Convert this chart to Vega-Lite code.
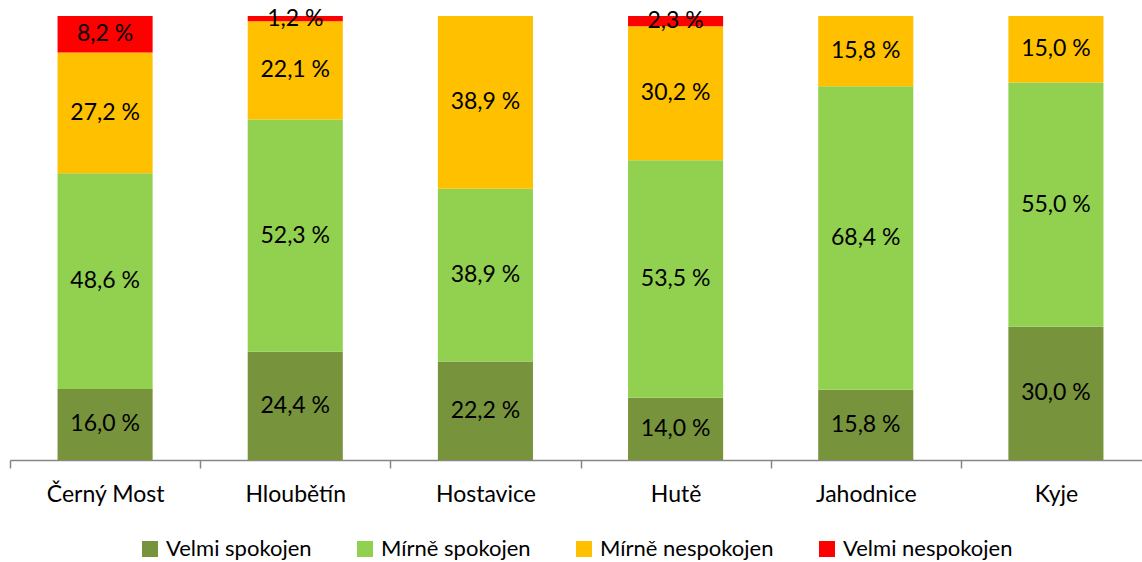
{
  "$schema": "https://vega.github.io/schema/vega-lite/v6.json",
  "width": 1132,
  "height": 444,
  "autosize": {"type": "none"},
  "padding": {"left": 10, "top": 16, "right": 0, "bottom": 102},
  "background": "white",
  "data": {"values": [
    {"area": "Černý Most", "series": "Velmi spokojen", "o": 1, "value": 16.0},
    {"area": "Černý Most", "series": "Mírně spokojen", "o": 2, "value": 48.6},
    {"area": "Černý Most", "series": "Mírně nespokojen", "o": 3, "value": 27.2},
    {"area": "Černý Most", "series": "Velmi nespokojen", "o": 4, "value": 8.2},
    {"area": "Hloubětín", "series": "Velmi spokojen", "o": 1, "value": 24.4},
    {"area": "Hloubětín", "series": "Mírně spokojen", "o": 2, "value": 52.3},
    {"area": "Hloubětín", "series": "Mírně nespokojen", "o": 3, "value": 22.1},
    {"area": "Hloubětín", "series": "Velmi nespokojen", "o": 4, "value": 1.2},
    {"area": "Hostavice", "series": "Velmi spokojen", "o": 1, "value": 22.2},
    {"area": "Hostavice", "series": "Mírně spokojen", "o": 2, "value": 38.9},
    {"area": "Hostavice", "series": "Mírně nespokojen", "o": 3, "value": 38.9},
    {"area": "Hutě", "series": "Velmi spokojen", "o": 1, "value": 14.0},
    {"area": "Hutě", "series": "Mírně spokojen", "o": 2, "value": 53.5},
    {"area": "Hutě", "series": "Mírně nespokojen", "o": 3, "value": 30.2},
    {"area": "Hutě", "series": "Velmi nespokojen", "o": 4, "value": 2.3},
    {"area": "Jahodnice", "series": "Velmi spokojen", "o": 1, "value": 15.8},
    {"area": "Jahodnice", "series": "Mírně spokojen", "o": 2, "value": 68.4},
    {"area": "Jahodnice", "series": "Mírně nespokojen", "o": 3, "value": 15.8},
    {"area": "Kyje", "series": "Velmi spokojen", "o": 1, "value": 30.0},
    {"area": "Kyje", "series": "Mírně spokojen", "o": 2, "value": 55.0},
    {"area": "Kyje", "series": "Mírně nespokojen", "o": 3, "value": 15.0}
  ]},
  "transform": [
    {"stack": "value", "groupby": ["area"], "sort": [{"field": "o", "order": "ascending"}], "offset": "normalize", "as": ["v0", "v1"]},
    {"calculate": "(datum.v0 + datum.v1) / 2", "as": "mid"},
    {"calculate": "replace(format(datum.value, '.1f'), '.', ',') + ' %'", "as": "label"}
  ],
  "encoding": {
    "x": {
      "field": "area", "type": "nominal", "sort": null,
      "scale": {"range": [0, 1141], "paddingInner": 0, "paddingOuter": 0},
      "axis": {
        "title": null, "labelAngle": 0, "labelFontSize": 23, "labelColor": "#000000",
        "labelFont": "Lato", "labelPadding": 15, "tickBand": "extent", "tickSize": 8,
        "tickColor": "#868686", "domainColor": "#868686", "domainWidth": 1.5, "tickWidth": 1.5
      }
    }
  },
  "layer": [
    {
      "mark": {"type": "bar", "width": {"band": 0.5}},
      "encoding": {
        "y": {"field": "v0", "type": "quantitative", "scale": {"domain": [0, 1]}, "axis": null},
        "y2": {"field": "v1"},
        "color": {
          "field": "series", "type": "nominal",
          "scale": {
            "domain": ["Velmi spokojen", "Mírně spokojen", "Mírně nespokojen", "Velmi nespokojen"],
            "range": ["#77933C", "#92D050", "#FFC000", "#FF0000"]
          },
          "legend": {
            "title": null, "orient": "bottom", "direction": "horizontal", "symbolType": "square",
            "symbolSize": 256, "symbolStrokeWidth": 0, "labelFontSize": 22, "labelFont": "Lato",
            "labelColor": "#000000", "columnPadding": 42, "offset": 32, "labelOffset": 5, "labelLimit": 400
          }
        }
      }
    },
    {
      "mark": {"type": "text", "fontSize": 23, "font": "Lato", "color": "#000000", "baseline": "middle"},
      "encoding": {
        "y": {"field": "mid", "type": "quantitative"},
        "text": {"field": "label", "type": "nominal"}
      }
    }
  ],
  "config": {
    "view": {"stroke": null},
    "legend": {"layout": {"bottom": {"anchor": "middle"}}}
  }
}
